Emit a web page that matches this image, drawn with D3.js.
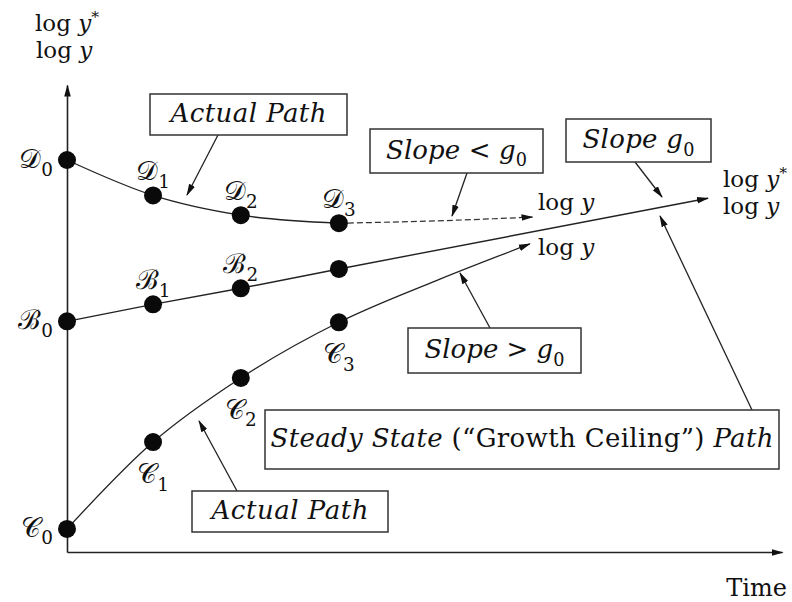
<!DOCTYPE html>
<html>
<head>
<meta charset="utf-8">
<script src="https://cdn.jsdelivr.net/npm/d3@7"></script>
<style>
  body { margin: 0; background: #fff; }
  text { font-family: "DejaVu Serif", "Liberation Serif", serif; fill: #111; }
</style>
</head>
<body>
<script>
// time positions of the marked points and the three paths (log scale units)
const times = [0, 1, 2.02, 3.16];
const dValues = [83.1, 75.6, 71.4, 69.7];
const bValues = [48.9, 52.5, 55.9, 60.0];
const cValues = [4.9, 23.3, 36.9, 48.7];

// continuation of each path past the last dot
const dTailTimes = [3.16, 4.3, 5.41];
const dTailValues = [69.7, 70.2, 71.0];
const bTailTimes = [3.16, 7.45];
const bTailValues = [60.0, 75.0];
const cTailTimes = [3.16, 4.3, 5.38];
const cTailValues = [48.7, 57.6, 65.3];

const letters = ["𝒟", "ℬ", "𝒞"];

const width = 792;
const height = 602;

const x = d3.scaleLinear().domain([0, 8.31]).range([67, 782]);
const y = d3.scaleLinear().domain([0, 99]).range([552, 85]);

const svg = d3.select("body")
    .append("svg")
    .attr("width", width)
    .attr("height", height);

const defs = svg.append("defs");
defs.append("marker")
    .attr("id", "arrow")
    .attr("markerUnits", "userSpaceOnUse")
    .attr("viewBox", "0 -4 12 8")
    .attr("refX", 11)
    .attr("refY", 0)
    .attr("markerWidth", 12)
    .attr("markerHeight", 8)
    .attr("orient", "auto")
    .append("path")
    .attr("d", "M0,-3.3L12,0L0,3.3Z")
    .attr("fill", "#111");

// axes: no ticks, only arrows
svg.append("g")
    .attr("transform", `translate(0,${y(0)})`)
    .call(d3.axisBottom(x).ticks(0).tickSizeOuter(0))
    .select(".domain")
    .attr("stroke", "#222")
    .attr("stroke-width", 1.6)
    .attr("marker-end", "url(#arrow)");

svg.append("g")
    .attr("transform", `translate(${x(0)},0)`)
    .call(d3.axisLeft(y).ticks(0).tickSizeOuter(0))
    .select(".domain")
    .attr("stroke", "#222")
    .attr("stroke-width", 1.6)
    .attr("marker-end", "url(#arrow)");

const curve = d3.line()
    .x(d => x(d[0]))
    .y(d => y(d[1]))
    .curve(d3.curveMonotoneX);

const straight = d3.line()
    .x(d => x(d[0]))
    .y(d => y(d[1]));

const zip = (a, b) => a.map((t, i) => [t, b[i]]);

// D path: solid, then dashed tail
svg.append("path")
    .attr("d", curve(zip(times, dValues)))
    .attr("fill", "none").attr("stroke", "#222").attr("stroke-width", 1.3);
svg.append("path")
    .attr("d", curve(zip(dTailTimes, dTailValues)))
    .attr("fill", "none").attr("stroke", "#333").attr("stroke-width", 1.2)
    .attr("stroke-dasharray", "6,3")
    .attr("marker-end", "url(#arrow)");

// B path: steady state straight line
svg.append("path")
    .attr("d", straight(zip(times, bValues).concat(zip(bTailTimes, bTailValues).slice(1))))
    .attr("fill", "none").attr("stroke", "#222").attr("stroke-width", 1.4)
    .attr("marker-end", "url(#arrow)");

// C path
svg.append("path")
    .attr("d", curve(zip(times, cValues).concat(zip(cTailTimes, cTailValues).slice(1))))
    .attr("fill", "none").attr("stroke", "#222").attr("stroke-width", 1.3)
    .attr("marker-end", "url(#arrow)");

// dots
[dValues, bValues, cValues].forEach(vals => {
    svg.selectAll(null)
        .data(zip(times, vals))
        .enter()
        .append("circle")
        .attr("cx", d => x(d[0]))
        .attr("cy", d => y(d[1]))
        .attr("r", 9)
        .attr("fill", "#0a0a0a");
});

function addParts(text, parts, size) {
    let shift = 0;
    parts.forEach(p => {
        const ts = text.append("tspan").text(p.t);
        const target = p.sub ? size * 0.28 : p.sup ? -size * 0.38 : 0;
        if (target !== shift) {
            ts.attr("dy", target - shift);
            shift = target;
        }
        if (p.sub || p.sup) ts.attr("font-size", size * 0.68);
        if (p.i) ts.attr("font-style", "italic");
    });
}

// point labels
const labelSize = 27;
const series = [dValues, bValues, cValues];
series.forEach((vals, s) => {
    vals.forEach((v, i) => {
        if (s === 1 && i === 3) return;
        const px = x(times[i]);
        const py = y(v);
        const t = svg.append("text").attr("font-size", labelSize);
        if (i === 0) {
            t.attr("x", px - 14).attr("y", py + 8).attr("text-anchor", "end");
        } else if (s === 2) {
            t.attr("x", px).attr("y", py + 41).attr("text-anchor", "middle");
        } else {
            t.attr("x", px).attr("y", py - 15).attr("text-anchor", "middle");
        }
        addParts(t, [{ t: letters[s] }, { t: String(i), sub: true }], labelSize);
    });
});

// axis titles
const titleSize = 23;
const logY = [{ t: "log " }, { t: "y", i: true }];
const logYStar = [{ t: "log " }, { t: "y", i: true }, { t: "*", sup: true }];

function title(px, py, parts) {
    const t = svg.append("text")
        .attr("x", px).attr("y", py)
        .attr("font-size", titleSize);
    addParts(t, parts, titleSize);
}
title(35, 31, logYStar);
title(36, 58, logY);
title(723, 187, logYStar);
title(723, 214, logY);
title(538, 210, logY);
title(538, 255, logY);
svg.append("text").attr("x", 787).attr("y", 596).attr("text-anchor", "end")
    .attr("font-size", 24).text("Time");

// annotation boxes with pointer arrows; len = width of the typeset text
const boxSize = 26;
const notes = [
    { box: [150, 94, 197, 41], len: 156, from: [218, 135], to: [187, 195],
      parts: [{ t: "Actual Path", i: true }] },
    { box: [370, 129, 173, 44], len: 141, from: [467, 173], to: [452, 216],
      parts: [{ t: "Slope ", i: true }, { t: "< " }, { t: "g", i: true }, { t: "0", sub: true }] },
    { box: [566, 119, 145, 43], len: 112, from: [635, 162], to: [662, 197],
      parts: [{ t: "Slope ", i: true }, { t: "g", i: true }, { t: "0", sub: true }] },
    { box: [408, 328, 173, 45], len: 140, from: [490, 328], to: [460, 273],
      parts: [{ t: "Slope ", i: true }, { t: "> " }, { t: "g", i: true }, { t: "0", sub: true }] },
    { box: [265, 410, 514, 59], len: 503, from: [752, 410], to: [660, 216],
      parts: [{ t: "Steady State ", i: true }, { t: "(“Growth Ceiling”) " }, { t: "Path", i: true }] },
    { box: [192, 491, 196, 41], len: 157, from: [237, 491], to: [199, 421],
      parts: [{ t: "Actual Path", i: true }] }
];

notes.forEach(n => {
    const [bx, by, bw, bh] = n.box;
    svg.append("line")
        .attr("x1", n.from[0]).attr("y1", n.from[1])
        .attr("x2", n.to[0]).attr("y2", n.to[1])
        .attr("stroke", "#222").attr("stroke-width", 1.3)
        .attr("marker-end", "url(#arrow)");
    svg.append("rect")
        .attr("x", bx).attr("y", by).attr("width", bw).attr("height", bh)
        .attr("fill", "#fff").attr("stroke", "#333").attr("stroke-width", 1.5);
    const t = svg.append("text")
        .attr("x", bx + bw / 2)
        .attr("y", by + bh / 2 + boxSize * 0.3)
        .attr("text-anchor", "middle")
        .attr("font-size", boxSize)
        .attr("textLength", n.len)
        .attr("lengthAdjust", "spacing");
    addParts(t, n.parts, boxSize);
});
</script>
</body>
</html>
